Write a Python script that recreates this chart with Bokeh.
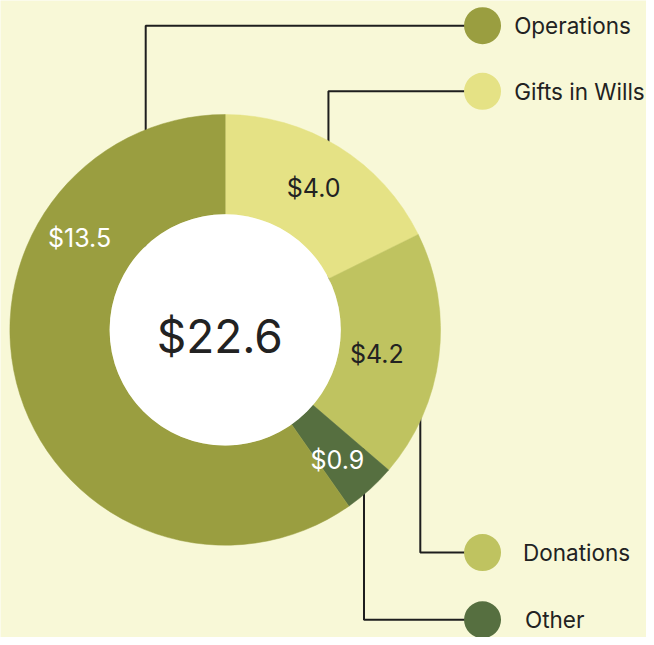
import math
from bokeh.plotting import figure
from bokeh.models import Range1d, ColumnDataSource
from bokeh.core.properties import value
from bokeh.embed import file_html
from bokeh.resources import INLINE

# ---- data ----
categories = ["Gifts in Wills", "Donations", "Other", "Operations"]
values = [4.0, 4.2, 0.9, 13.5]
labels = ["$4.0", "$4.2", "$0.9", "$13.5"]
total_label = "$22.6"
colors = ["#e5e285", "#bfc360", "#566f40", "#9a9e40"]
label_colors = ["#222222", "#222222", "#ffffff", "#ffffff"]

BG = "#f8f8d7"
W, H = 646, 637
# data x = reference px, data y = 645 - reference py
def Y(py):
    return 645 - py

p = figure(width=W, height=H, output_backend="svg", toolbar_location=None,
           x_range=Range1d(0, 654), y_range=Range1d(0, 645),
           min_border=0, x_axis_location=None, y_axis_location=None)
p.background_fill_color = BG
p.border_fill_color = BG
p.outline_line_color = None
p.grid.visible = False

cx, cy = 227.5, Y(333.5)
r_out, r_in = 218, 117

total = sum(values)
start = math.pi / 2
starts, ends = [], []
a = start
for v in values:
    sweep = v / total * 2 * math.pi
    starts.append(a - sweep)
    ends.append(a)
    a -= sweep

# leader lines (drawn first, wedges cover inner part)
leg_cy = {"Operations": 25.5, "Gifts in Wills": 92, "Donations": 559, "Other": 627}
leg_lx = {"Operations": 147, "Gifts in Wills": 332, "Donations": 425, "Other": 368}
leg_tx = {"Operations": 520, "Gifts in Wills": 520, "Donations": 529, "Other": 531}
for c in categories:
    ly = Y(leg_cy[c])
    p.line([leg_lx[c], leg_lx[c], 488], [cy, ly, ly], line_color="#1e1e1e", line_width=2)

src = ColumnDataSource(dict(start=starts, end=ends, color=colors))
p.annular_wedge(x=cx, y=cy, inner_radius=r_in, outer_radius=r_out,
                start_angle="start", end_angle="end", direction="anticlock",
                fill_color="color", line_color="color", line_width=0.5, source=src)
p.circle(x=[cx], y=[cy], radius=r_in, fill_color="#ffffff", line_color=None)

# value labels
lab_pos = {"Gifts in Wills": (317, 190), "Donations": (381, 358), "Other": (341, 465), "Operations": (80, 240)}
lx = [lab_pos[c][0] for c in categories]
ly = [Y(lab_pos[c][1]) for c in categories]
p.text(x=lx, y=ly, text=labels, text_color=label_colors, text_font=value("Inter"),
       text_font_size="25px", text_align="center", text_baseline="middle")

p.text(x=[222], y=[Y(340)], text=[total_label], text_color="#222222",
       text_font=value("Inter"), text_font_size="46px",
       text_align="center", text_baseline="middle")

# legend markers and text
p.scatter(x=[488] * 4, y=[Y(leg_cy[c]) for c in categories], size=37,
          fill_color=colors, line_color=None)
p.text(x=[leg_tx[c] for c in categories], y=[Y(leg_cy[c]) for c in categories],
       text=categories, text_color="#222222", text_font=value("Inter"),
       text_font_size="22.5px", text_align="left", text_baseline="middle")

open("out.html", "w").write(file_html(p, INLINE))
